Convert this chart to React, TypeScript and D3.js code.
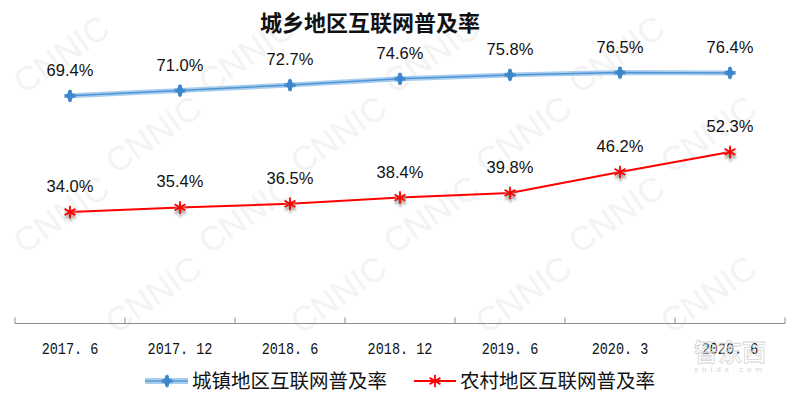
import React from 'react'
import * as d3 from 'd3'

const periods = ['2017. 6', '2017. 12', '2018. 6', '2018. 12', '2019. 6', '2020. 3', '2020. 6']
const urbanRate = [69.4, 71.0, 72.7, 74.6, 75.8, 76.5, 76.4]
const ruralRate = [34.0, 35.4, 36.5, 38.4, 39.8, 46.2, 52.3]
const seriesNames = ['城镇地区互联网普及率', '农村地区互联网普及率']
const chartTitle = '城乡地区互联网普及率'

const W = 800
const H = 394
const axisY = 323.5

export default function App() {
  const x = d3.scaleBand<string>().domain(periods).range([15, 785]).paddingInner(0).paddingOuter(0)
  const y = d3.scaleLinear().domain([0, 90]).range([axisY, 28.3])
  const cx = (d: string) => (x(d) as number) + x.bandwidth() / 2

  const line = d3
    .line<number>()
    .x((_, i) => cx(periods[i]))
    .y(d => y(d))

  const asterisk = d3.symbol().type(d3.symbolAsterisk).size(110)()
  const diamond = d3.symbol().type(d3.symbolDiamond).size(55)()
  const cross = d3.symbol().type(d3.symbolCross).size(70)()

  // boundaries of the category bands for tick marks
  const bounds = periods.map(p => x(p) as number).concat([785])

  // watermark grid, only the ones that fit inside the picture
  const marks: [number, number][] = []
  for (let r = 0; r < 6; r++) {
    for (let c = -1; c < 6; c++) {
      const mx = c * 185 + (r % 2) * 92 + 24
      const my = r * 80 + 95
      if (mx >= 20 && mx + 95 <= W && my - 88 >= 0 && my + 2 <= H) marks.push([mx, my])
    }
  }

  return (
    <svg width={W} height={H} style={{ position: 'absolute', left: 0, top: 0, background: '#fff' }}>
      <defs>
        <filter id="shadow" x="-50%" y="-50%" width="200%" height="200%">
          <feGaussianBlur stdDeviation="1.2" />
        </filter>
      </defs>

      {/* CNNIC watermark */}
      <g fill="#f3f3f3" fontFamily="Liberation Sans, Arial" fontSize={34}>
        {marks.map(([mx, my], i) => (
          <text key={i} transform={`translate(${mx},${my}) rotate(-35)`}>
            CNNIC
          </text>
        ))}
      </g>

      <text
        x={370}
        y={31}
        textAnchor="middle"
        fontFamily="Noto Sans CJK SC"
        fontWeight="bold"
        fontSize={22}
        fill="#111"
      >
        {chartTitle}
      </text>

      {/* x axis */}
      <g stroke="#8c8c8c" strokeWidth={1}>
        <line x1={15} x2={785} y1={axisY} y2={axisY} />
        {bounds.map((b, i) => (
          <line key={i} x1={b} x2={b} y1={axisY - 6} y2={axisY} />
        ))}
      </g>
      <g fontFamily="Liberation Mono" fontSize={16} fill="#111">
        {periods.map(p => (
          <text
            key={p}
            x={cx(p) - (p.length * 8.1) / 2}
            y={354}
            textLength={p.length * 8.1}
            lengthAdjust="spacingAndGlyphs"
          >
            {p}
          </text>
        ))}
      </g>

      {/* urban series */}
      <path d={line(urbanRate) || ''} fill="none" stroke="#a9cdee" strokeWidth={5} />
      <path d={line(urbanRate) || ''} fill="none" stroke="#4f95d3" strokeWidth={1.5} />
      {urbanRate.map((v, i) => (
        <g key={i} transform={`translate(${cx(periods[i])},${y(v)})`}>
          <path d={cross} fill="#4a8fd0" />
          <path d={diamond} fill="#3c86cc" />
        </g>
      ))}

      {/* rural series */}
      <path d={line(ruralRate) || ''} fill="none" stroke="#ff0000" strokeWidth={2} />
      {ruralRate.map((v, i) => (
        <g key={i}>
          <path
            d={asterisk}
            transform={`translate(${cx(periods[i]) + 0.5},${y(v) + 3})`}
            stroke="#999"
            strokeWidth={2}
            fill="none"
            filter="url(#shadow)"
          />
          <path
            d={asterisk}
            transform={`translate(${cx(periods[i])},${y(v)})`}
            stroke="#ff0000"
            strokeWidth={1.8}
            fill="none"
          />
        </g>
      ))}

      {/* value labels */}
      <g fontFamily="Liberation Sans, Arial" fontSize={16.5} fill="#111" textAnchor="middle">
        {urbanRate.map((v, i) => (
          <text key={'u' + i} x={cx(periods[i])} y={y(v) - 20}>
            {v.toFixed(1)}%
          </text>
        ))}
        {ruralRate.map((v, i) => (
          <text key={'r' + i} x={cx(periods[i])} y={y(v) - 20}>
            {v.toFixed(1)}%
          </text>
        ))}
      </g>

      {/* legend */}
      <g transform="translate(0,381)">
        <line x1={145} x2={188} stroke="#a9cdee" strokeWidth={6} />
        <line x1={145} x2={188} stroke="#5b9bd5" strokeWidth={1.5} />
        <path d={cross} transform="translate(167,0)" fill="#4a8fd0" />
        <path d={diamond} transform="translate(167,0)" fill="#3c86cc" />
        <text x={192} y={7} fontFamily="Noto Sans CJK SC" fontSize={19.5} fill="#111">
          {seriesNames[0]}
        </text>
        <line x1={414} x2={456} stroke="#ff0000" strokeWidth={2} />
        <path d={asterisk} transform="translate(435,0)" stroke="#ff0000" strokeWidth={1.8} fill="none" />
        <text x={460} y={7} fontFamily="Noto Sans CJK SC" fontSize={19.5} fill="#111">
          {seriesNames[1]}
        </text>
      </g>

      {/* site mark */}
      <text
        x={730}
        y={361}
        textAnchor="middle"
        fontFamily="Noto Sans CJK SC"
        fontSize={24}
        fontWeight="bold"
        fill="none"
        stroke="#d6d6d6"
        strokeWidth={0.8}
      >
        智东西
      </text>
      <text x={730} y={372} textAnchor="middle" fontFamily="Liberation Sans" fontSize={8} fill="#d6d6d6" letterSpacing={4}>
        zhidx.com
      </text>
    </svg>
  )
}
